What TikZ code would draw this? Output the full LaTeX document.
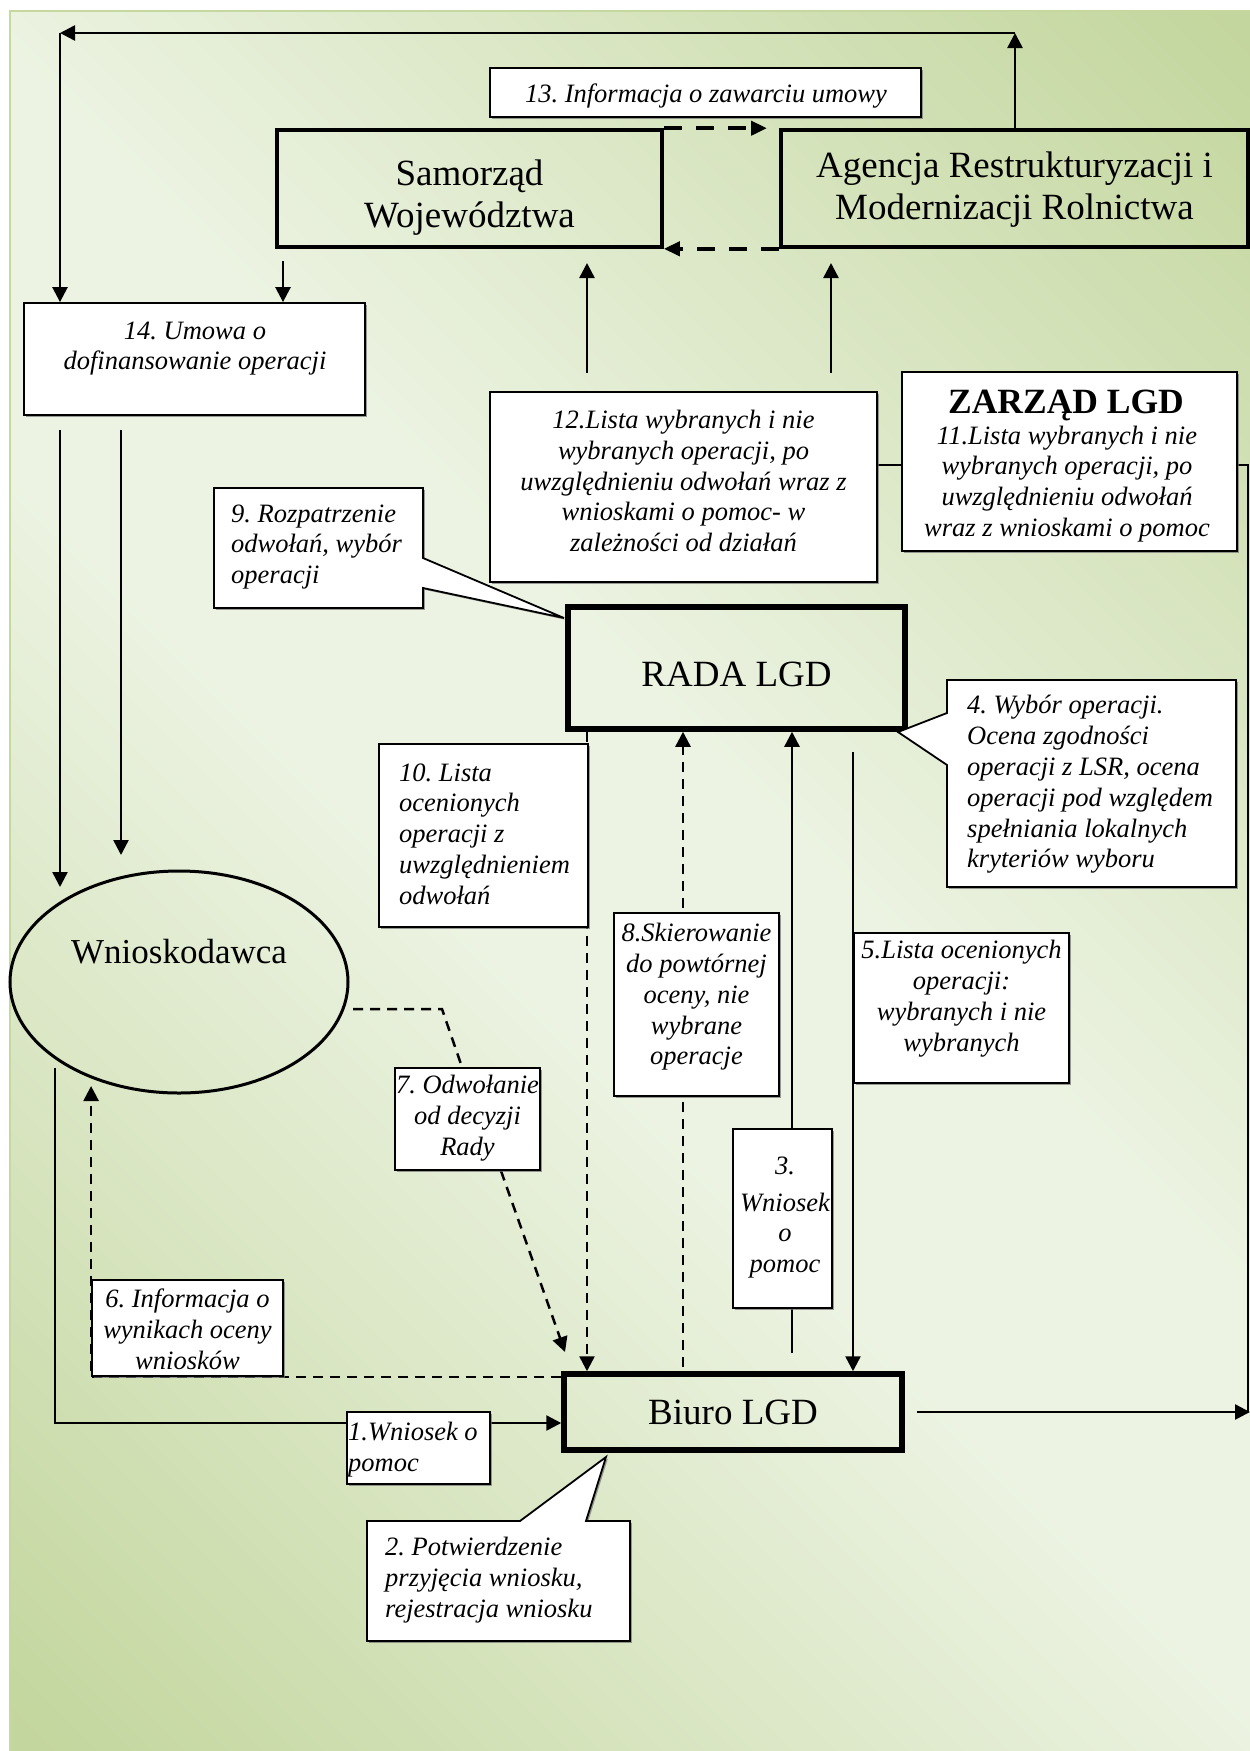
\documentclass[tikz,border=0pt]{standalone}
\usepackage{fontspec}
\setmainfont{Liberation Serif}
\usetikzlibrary{arrows.meta,shadows,shapes.geometric}
\definecolor{bgdark}{RGB}{195,214,157}
\definecolor{bglight}{RGB}{236,243,226}
\definecolor{bgedge}{RGB}{196,216,160}
\pgfdeclareverticalshading{bgsh}{100bp}{color(0bp)=(bgdark); color(15bp)=(bgdark); color(45bp)=(bglight); color(55bp)=(bglight); color(85bp)=(bgdark); color(100bp)=(bgdark)}
\newcommand\lblfont{\fontsize{26.5}{30.8}\selectfont\itshape}
\newcommand\bigtxt{\fontsize{37}{42}\selectfont}
\frenchspacing
\pgfdeclarelayer{back}
\pgfdeclarelayer{conns}
\pgfsetlayers{back,conns,main}
\tikzset{
  conn/.style={line width=2.5pt},
  arr/.style={-{Triangle[length=15pt,width=15pt]}},
  arrb/.style={-{Triangle[length=16pt,width=14pt]}},
  dsh/.style={dash pattern=on 10pt off 7pt},
  tdsh/.style={line width=4pt, dash pattern=on 18pt off 14pt},
  lbox/.style={draw, fill=white, line width=1.8pt, inner sep=0pt,
     drop shadow={shadow xshift=1.8pt, shadow yshift=-1.8pt, fill=black!55, opacity=0.7}},
  callbox/.style={draw, fill=white, line width=1.8pt, line join=miter,
     drop shadow={shadow xshift=1.8pt, shadow yshift=-1.8pt, fill=black!55, opacity=0.7}},
  bigbox/.style={draw, line width=3.6pt, inner sep=0pt},
  heavybox/.style={draw, line width=5.5pt, inner sep=0pt},
  txt/.style={font=\lblfont, align=center, inner sep=0pt},
  txtl/.style={font=\lblfont, align=left, inner sep=0pt, anchor=west},
  bigt/.style={font=\bigtxt, align=center, inner sep=0pt},
}
\begin{document}
\begin{tikzpicture}[x=1pt,y=-1pt]
\useasboundingbox (0,0) rectangle (1250,1751);
\begin{pgfonlayer}{back}
\shade[shading=bgsh, shading angle=-45] (10,11) rectangle (1250,1751);
\draw[bgedge, line width=2pt] (10,1751) -- (10,11) -- (1250,11);
\end{pgfonlayer}

% ---------- boxes ----------
\node[lbox, minimum width=431pt, minimum height=49pt] (b13) at (705.5,92.5) {};
\node[txt] (b13t) at (706,96) {13. Informacja o zawarciu umowy};

\node[bigbox, minimum width=385pt, minimum height=117pt] (sam) at (469.5,188.5) {};
\node[bigt] (samt) at (469.5,197.5) {Samorząd\\Województwa};

\node[bigbox, minimum width=467pt, minimum height=117pt] (arimr) at (1014.5,188.5) {};
\node[bigt] (arimrt) at (1014.5,190) {Agencja Restrukturyzacji i\\Modernizacji Rolnictwa};

\node[lbox, minimum width=341pt, minimum height=112pt] (b14) at (194.5,359) {};
\node[txt] (b14t) at (195,348.5) {14. Umowa o\\dofinansowanie operacji};

\node[lbox, minimum width=387pt, minimum height=190pt] (b12) at (683.5,487) {};
\node[txt] (b12t) at (683.5,481) {12.Lista wybranych i nie\\wybranych operacji, po\\uwzględnieniu odwołań wraz z\\wnioskami o pomoc- w\\zależności od działań};

\node[lbox, minimum width=335pt, minimum height=179pt] (zarzad) at (1069.5,461.5) {};
\node[inner sep=0pt, font=\fontsize{35.5}{40}\selectfont\bfseries] (zarzadt) at (1066,405) {ZARZĄD LGD};
\node[txt] (b11t) at (1067,484) {11.Lista wybranych i nie\\wybranych operacji, po\\uwzględnieniu odwołań\\wraz z wnioskami o pomoc};

\path[callbox] (214,488) -- (423,488) -- (423,558) -- (564,618) -- (423,588) -- (423,608) -- (214,608) -- cycle;
\node[txtl] (b9t) at (231,547) {9. Rozpatrzenie\\odwołań, wybór\\operacji};

\node[heavybox, minimum width=337pt, minimum height=122pt] (rada) at (736.5,668) {};
\node[bigt] (radat) at (736.5,674) {RADA LGD};

\path[callbox] (947,680) -- (1236,680) -- (1236,887) -- (947,887) -- (947,765) -- (898,732) -- (947,713) -- cycle;
\node[txtl] (b4t) at (967,784.5) {4. Wybór operacji.\\Ocena zgodności\\operacji z LSR, ocena\\operacji pod względem\\spełniania lokalnych\\kryteriów wyboru};

\node[lbox, minimum width=209pt, minimum height=183pt] (b10) at (483.5,835.5) {};
\node[txtl] (b10t) at (399,834) {10. Lista\\ocenionych\\operacji z\\uwzględnieniem\\odwołań};

\node[lbox, minimum width=165pt, minimum height=183pt] (b8) at (696.5,1004.5) {};
\node[txt] (b8t) at (696.5,997) {8.Skierowanie\\do powtórnej\\oceny, nie\\wybrane\\operacje};

\node[lbox, minimum width=215pt, minimum height=150pt] (b5) at (961.5,1008) {};
\node[txt] (b5t) at (961.5,998.5) {5.Lista ocenionych\\operacji:\\wybranych i nie\\wybranych};

\node[draw, ellipse, line width=3pt, minimum width=338pt, minimum height=222pt, inner sep=0pt] (wn) at (179,982) {};
\node[inner sep=0pt, font=\fontsize{35}{40}\selectfont] (wnt) at (179,952) {Wnioskodawca};

\node[lbox, minimum width=145pt, minimum height=102pt] (b7) at (467.5,1119) {};
\node[txt] (b7t) at (467.5,1118) {7. Odwołanie\\od decyzji\\Rady};

\node[lbox, minimum width=99pt, minimum height=179pt] (b3) at (782.5,1218.5) {};
\node[txt] (b3t) at (785,1217.5) {3.\\[6pt]Wniosek\\o\\pomoc};

\node[lbox, minimum width=191pt, minimum height=96pt] (b6) at (187.5,1328) {};
\node[txt] (b6t) at (187.5,1329) {6. Informacja o\\wynikach oceny\\wniosków};

\node[heavybox, minimum width=338pt, minimum height=76pt] (biuro) at (733,1412) {};
\node[bigt] (biurot) at (733,1412) {Biuro LGD};

\node[lbox, minimum width=143pt, minimum height=72pt] (b1) at (418.5,1448) {};
\node[txtl] (b1t) at (348,1449.5) {1.Wniosek o\\pomoc};

\path[callbox] (367,1521) -- (520,1521) -- (606,1457) -- (586,1521) -- (630,1521) -- (630,1641) -- (367,1641) -- cycle;
\node[txtl] (b2t) at (385,1580) {2. Potwierdzenie\\przyjęcia wniosku,\\rejestracja wniosku};

% ---------- connectors ----------
\coordinate (tr) at (1015,33);
\coordinate (tl) at (60,33);
\coordinate (s1) at (283,261);
\coordinate (u1s) at (587,373);
\coordinate (u1e) at (587,263);
\coordinate (u2s) at (831,373);
\coordinate (u2e) at (831,263);
\coordinate (dA) at (767,0);
\coordinate (y465) at (0,465);
\coordinate (re1) at (1248,465);
\coordinate (re2) at (1248,1412);
\coordinate (bo) at (917,1412);
\coordinate (edge) at (1250,1412);
\coordinate (x587) at (587,0);
\coordinate (v8) at (683,1367);
\coordinate (v3) at (792,1353);
\coordinate (v5) at (853,752);
\coordinate (w1) at (60,430);
\coordinate (w1e) at (60,887);
\coordinate (w2) at (121,430);
\coordinate (w2e) at (121,855);
\coordinate (d1) at (353,1009);
\coordinate (d2) at (442,1009);
\coordinate (x462) at (462,0);
\coordinate (x501) at (501,0);
\coordinate (t7) at (565,1352);
\coordinate (yt6) at (0,1086);
\coordinate (y1) at (55,1068);
\coordinate (y2) at (55,1423);

\begin{pgfonlayer}{conns}
\draw[conn,arr] (arimr.north -| tr) -- (tr);
\draw[conn,arr] (tr) -- (tl);
\draw[conn,arr] (tl) -- (tl |- b14.north);
\draw[tdsh,arrb] (sam.north east) -- (dA |- sam.north east);
\draw[tdsh,arrb] (arimr.south west) -- (sam.south east);
\draw[conn,arr] (s1) -- (s1 |- b14.north);
\draw[conn,arr] (u1s) -- (u1e);
\draw[conn,arr] (u2s) -- (u2e);
\draw[conn] (b12.east |- y465) -- (zarzad.west |- y465);
\draw[conn] (zarzad.east |- re1) -- (re1) -- (re2);
\draw[conn,arr] (bo) -- (edge);
\draw[conn,dsh,arr] (rada.south -| x587) -- (biuro.north -| x587);
\draw[conn,dsh,arr] (v8) -- (v8 |- rada.south);
\draw[conn,arr] (v3) -- (v3 |- rada.south);
\draw[conn,arr] (v5) -- (v5 |- biuro.north);
\draw[conn,arr] (w1) -- (w1e);
\draw[conn,arr] (w2) -- (w2e);
\draw[conn,dsh] (d1) -- (d2) -- (b7.north -| x462);
\draw[conn,dsh,arr] (b7.south -| x501) -- (t7);
\draw[conn,dsh,arr] (biuro.west |- b6.south) -- (b6.south west) -- (b6.south west |- yt6);
\draw[conn,arr] (y1) -- (y2) -- (y2 -| biuro.west);
\end{pgfonlayer}
\end{tikzpicture}
\end{document}
